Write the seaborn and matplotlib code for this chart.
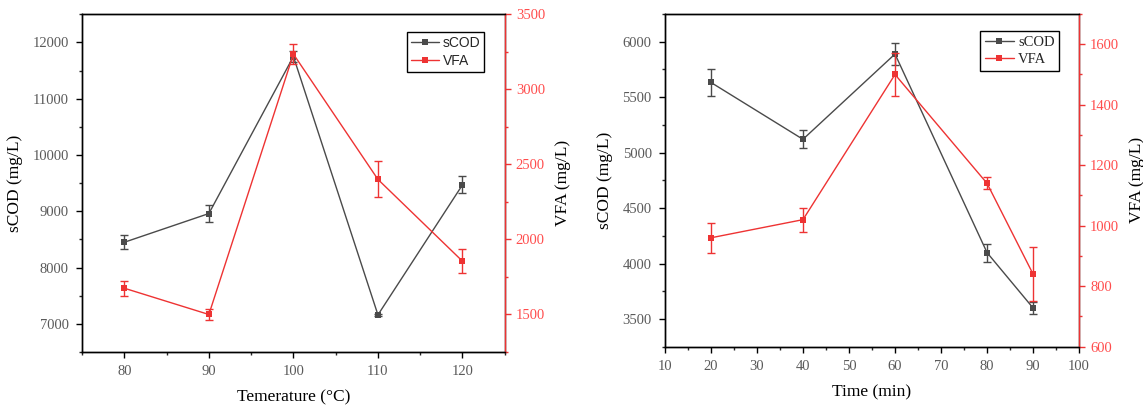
import numpy as np
import pandas as pd
import matplotlib
matplotlib.use("Agg")
import matplotlib.pyplot as plt
from matplotlib.ticker import MultipleLocator
import seaborn as sns

# ---- data ----
temp = [80, 90, 100, 110, 120]
temp_scod = [8450, 8960, 11750, 7160, 9470]
temp_scod_err = [120, 150, 100, 20, 150]
temp_vfa = [1675, 1500, 3235, 2400, 1855]
temp_vfa_err = [50, 35, 65, 120, 80]

time = [20, 40, 60, 80, 90]
time_scod = [5633, 5120, 5889, 4098, 3599]
time_scod_err = [122, 80, 100, 80, 50]
time_vfa = [960, 1020, 1500, 1140, 840]
time_vfa_err = [50, 40, 70, 20, 90]

GRAY = "#4a4a4a"
RED = "#ee3333"
TICKRED = "#ff4d4d"
TICKGRAY = "#5a5a5a"

sns.set_style("ticks")
plt.rcParams["font.family"] = ["Liberation Serif", "DejaVu Serif"]
plt.rcParams["axes.linewidth"] = 1.0

fig = plt.figure(figsize=(11.43, 4.07), dpi=100)
axL = fig.add_axes([0.0718, 0.1351, 0.3698, 0.8298])
axR = fig.add_axes([0.5817, 0.1482, 0.3624, 0.8174])


def panel(ax, x, scod, scod_err, vfa, vfa_err, xlabel, xlim, xmaj, xmin,
          ylim1, ymaj1, ymin1, ylim2, ymaj2, ymin2, legend_font):
    df = pd.DataFrame({"x": x, "sCOD": scod, "VFA": vfa})
    ax2 = ax.twinx()
    sns.lineplot(data=df, x="x", y="sCOD", ax=ax, color=GRAY, marker="s",
                 markersize=5, markeredgewidth=0, linewidth=1.0, label="sCOD",
                 legend=False, zorder=3)
    ax.errorbar(x, scod, yerr=scod_err, fmt="none", ecolor=GRAY, elinewidth=1.0,
                capsize=3, capthick=1.0, zorder=3)
    sns.lineplot(data=df, x="x", y="VFA", ax=ax2, color=RED, marker="s",
                 markersize=5, markeredgewidth=0, linewidth=1.0, label="VFA",
                 legend=False, zorder=3)
    ax2.errorbar(x, vfa, yerr=vfa_err, fmt="none", ecolor=RED, elinewidth=1.0,
                 capsize=3, capthick=1.0, zorder=3)

    ax.set_xlim(*xlim)
    ax.set_ylim(*ylim1)
    ax2.set_ylim(*ylim2)
    ax.xaxis.set_major_locator(MultipleLocator(xmaj))
    ax.xaxis.set_minor_locator(MultipleLocator(xmin))
    ax.yaxis.set_major_locator(MultipleLocator(ymaj1))
    ax.yaxis.set_minor_locator(MultipleLocator(ymin1))
    ax2.yaxis.set_major_locator(MultipleLocator(ymaj2))
    ax2.yaxis.set_minor_locator(MultipleLocator(ymin2))

    ax.set_xlabel(xlabel, fontsize=12.5, color="black", labelpad=8)
    ax.set_ylabel("sCOD (mg/L)", fontsize=12.5, color="black", labelpad=7)
    ax2.set_ylabel("VFA (mg/L)", fontsize=12.5, color="black", labelpad=7)

    for a in (ax, ax2):
        for s in a.spines.values():
            s.set_visible(True)
            s.set_color("black")
            s.set_linewidth(1.0)
    ax2.spines["right"].set_color(RED)

    ax.tick_params(axis="both", which="major", direction="out", length=4.5,
                   width=1, labelsize=10.5, colors="black", pad=5)
    ax.tick_params(axis="both", which="minor", direction="out", length=2.5, width=1)
    ax.tick_params(axis="y", labelcolor=TICKGRAY)
    ax.tick_params(axis="x", labelcolor=TICKGRAY)
    ax2.tick_params(axis="y", which="major", direction="out", length=4.5, width=1,
                    labelsize=10.5, colors=RED, labelcolor=TICKRED)
    ax2.tick_params(axis="y", which="minor", direction="out", length=2.5,
                    width=1, colors=RED)

    h1, l1 = ax.get_legend_handles_labels()
    h2, l2 = ax2.get_legend_handles_labels()
    leg = ax2.legend(h1 + h2, l1 + l2, loc="upper right",
                     bbox_to_anchor=(0.952, 0.948), borderaxespad=0,
                     frameon=True, fancybox=False,
                     edgecolor="black", framealpha=1, handlelength=2.0,
                     borderpad=0.3, labelspacing=0.3, handletextpad=0.3,
                     prop=legend_font)
    leg.get_frame().set_linewidth(1.0)
    return ax2


panel(axL, temp, temp_scod, temp_scod_err, temp_vfa, temp_vfa_err,
      "Temerature (°C)", (75, 125), 10, 5,
      (6500, 12500), 1000, 500, (1250, 3500), 500, 250,
      {"family": ["Liberation Sans", "DejaVu Sans"], "size": 10})
panel(axR, time, time_scod, time_scod_err, time_vfa, time_vfa_err,
      "Time (min)", (10, 100), 10, 5,
      (3250, 6250), 500, 250, (600, 1700), 200, 100,
      {"family": ["Liberation Serif", "DejaVu Serif"], "size": 10.5})

fig.savefig("out.png", dpi=100)
